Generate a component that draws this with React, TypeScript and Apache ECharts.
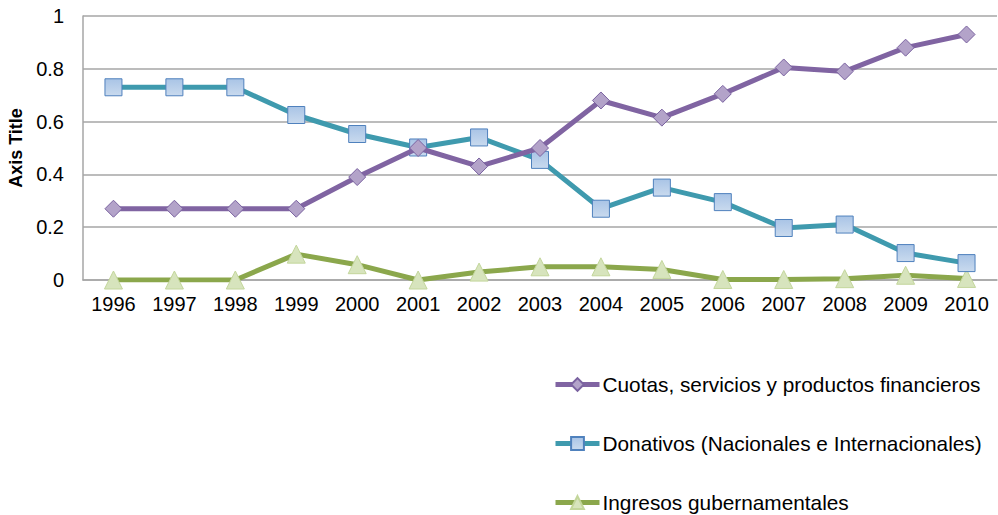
import React, { useEffect, useRef } from "react";
import * as echarts from "echarts";

const years = ["1996","1997","1998","1999","2000","2001","2002","2003","2004","2005","2006","2007","2008","2009","2010"];
const cuotas = [0.27,0.27,0.27,0.27,0.39,0.50,0.43,0.50,0.68,0.615,0.705,0.805,0.79,0.88,0.93];
const donativos = [0.73,0.73,0.73,0.625,0.553,0.502,0.54,0.455,0.27,0.35,0.295,0.197,0.21,0.102,0.064];
const ingresos = [0,0,0,0.098,0.058,0,0.03,0.05,0.05,0.04,0.002,0.002,0.005,0.018,0.006];

const nameCuotas = "Cuotas, servicios y productos financieros";
const nameDonativos = "Donativos (Nacionales e Internacionales)";
const nameIngresos = "Ingresos gubernamentales";

export default function App() {
  const ref = useRef<HTMLDivElement>(null);
  useEffect(() => {
    document.body.style.margin = "0";
    const chart = echarts.init(ref.current!, null, { renderer: "svg" });
    const font = "Liberation Sans, Arial, sans-serif";
    chart.setOption({
      animation: false,
      textStyle: { fontFamily: font },
      grid: { left: 83, right: 1, top: 16, bottom: 235, containLabel: false, outerBoundsMode: "none" },
      legend: {
        orient: "vertical",
        left: 553,
        top: 374,
        padding: 0,
        height: 142,
        itemWidth: 44,
        itemHeight: 16,
        itemGap: 38,
        lineStyle: { width: 5 },
        textStyle: { fontSize: 20.8, color: "#000", fontFamily: font, padding: [0, 0, 0, -2] },
        data: [nameCuotas, nameDonativos, nameIngresos],
      },
      xAxis: {
        type: "category",
        data: years,
        boundaryGap: true,
        axisLine: { show: true, lineStyle: { color: "#a6a6a6", width: 1.5 } },
        axisTick: { show: false },
        axisLabel: { fontSize: 20, color: "#000", margin: 14, fontFamily: font },
      },
      yAxis: {
        type: "value",
        min: 0,
        max: 1,
        interval: 0.2,
        name: "Axis Title",
        nameLocation: "middle",
        nameRotate: 90,
        nameGap: 58,
        nameTextStyle: { fontSize: 18, fontWeight: "bold", color: "#000", fontFamily: font },
        axisLine: { show: true, lineStyle: { color: "#a6a6a6", width: 1.5 } },
        axisTick: { show: false },
        axisLabel: { fontSize: 20, color: "#000", margin: 19, fontFamily: font },
        splitLine: { show: true, lineStyle: { color: "#a6a6a6", width: 1.5 } },
      },
      series: [
        {
          name: nameCuotas,
          type: "line",
          data: cuotas,
          symbol: "diamond",
          symbolSize: 17,
          lineStyle: { color: "#8064A2", width: 5 },
          itemStyle: { color: "#B3A3C9", borderColor: "#7A62A0", borderWidth: 1 },
          z: 3,
        },
        {
          name: nameDonativos,
          type: "line",
          data: donativos,
          symbol: "rect",
          symbolSize: 17,
          lineStyle: { color: "#3F9AAE", width: 5 },
          itemStyle: {
            color: new echarts.graphic.LinearGradient(0, 0, 0, 1, [
              { offset: 0, color: "#A9C4E6" },
              { offset: 1, color: "#C9DAEE" },
            ]),
            borderColor: "#4F81BD",
            borderWidth: 1,
          },
          z: 2,
        },
        {
          name: nameIngresos,
          type: "line",
          data: ingresos,
          symbol: "triangle",
          symbolSize: 18,
          lineStyle: { color: "#8BA74C", width: 5 },
          itemStyle: { color: "#D7E4BD", borderColor: "#C3D69B", borderWidth: 1 },
          z: 1,
        },
      ],
    });
    return () => chart.dispose();
  }, []);
  return <div ref={ref} style={{ width: 998, height: 515 }} />;
}
